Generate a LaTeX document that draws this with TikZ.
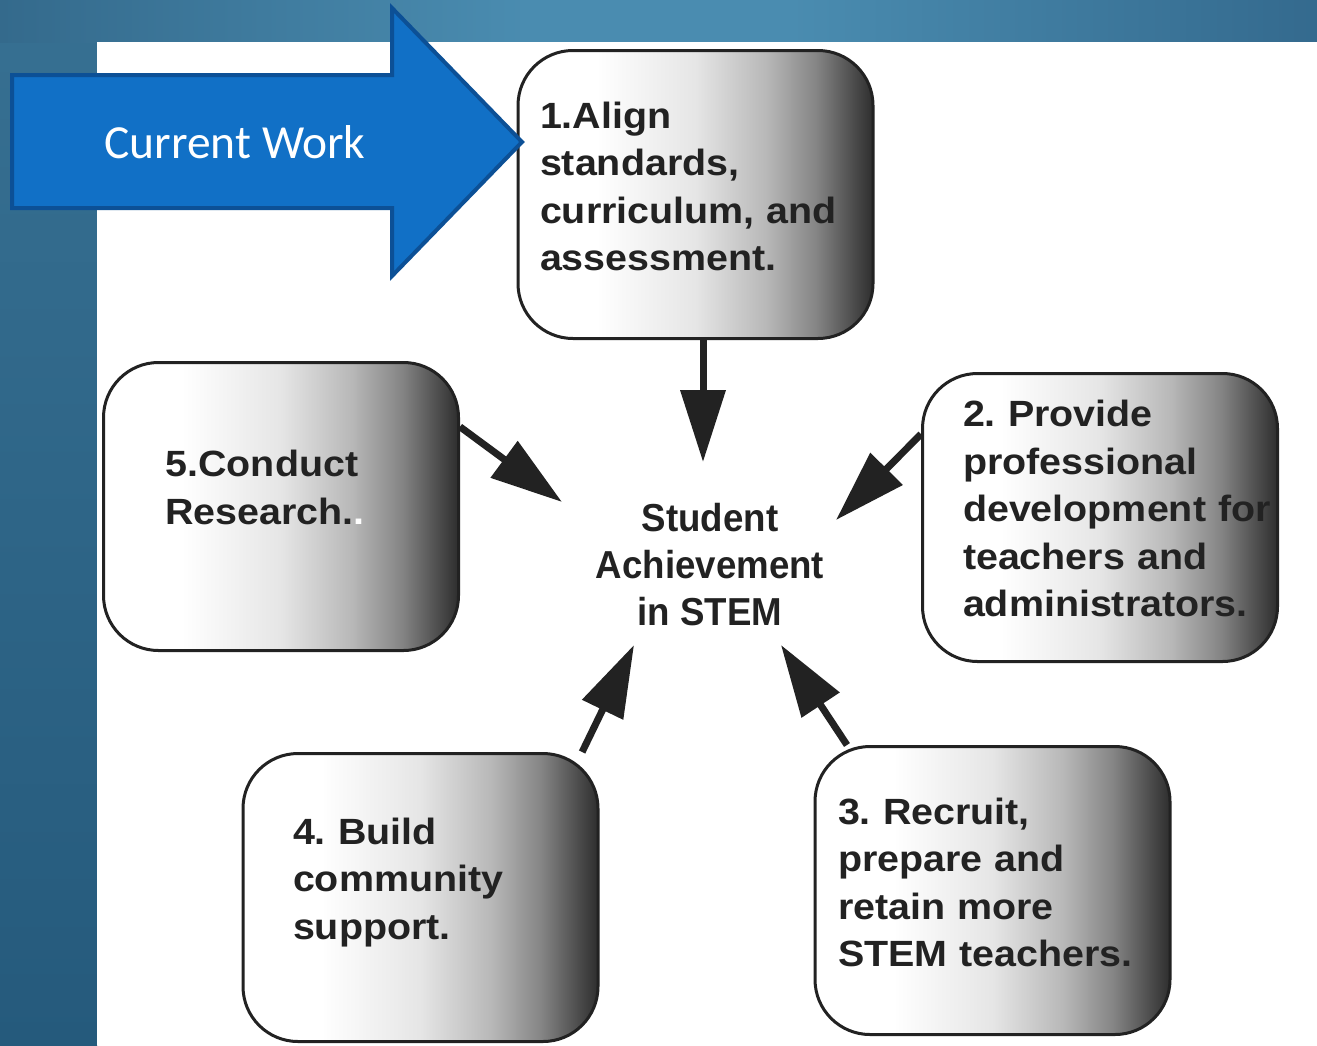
\documentclass[tikz,border=0pt]{standalone}
\usepackage{fontspec}
\usepackage{tikz}
\usetikzlibrary{positioning,arrows.meta}
\newfontfamily\boxfont[FakeStretch=1.08]{Liberation Sans}
\newfontfamily\stemfont[FakeStretch=0.94]{Liberation Sans}
\newfontfamily\workfont{Carlito}
\frenchspacing

\definecolor{ink}{RGB}{34,34,34}
\definecolor{workfill}{RGB}{17,112,198}
\definecolor{workline}{RGB}{12,80,150}
\definecolor{bandL}{RGB}{52,106,140}
\definecolor{bandM}{RGB}{74,140,176}
\definecolor{bandR}{RGB}{52,106,142}
\definecolor{stripT}{RGB}{55,112,146}
\definecolor{stripB}{RGB}{37,90,124}

\pgfdeclarehorizontalshading{boxfade}{100bp}{color(0bp)=(white); color(36bp)=(white);
  color(50bp)=(black!10); color(60bp)=(black!28); color(67bp)=(black!48);
  color(75bp)=(black!82); color(100bp)=(black!82)}
\pgfdeclarehorizontalshading{bandfade}{100bp}{color(0bp)=(bandL); color(25bp)=(bandL);
  color(45bp)=(bandM); color(55bp)=(bandM); color(75bp)=(bandR); color(100bp)=(bandR)}

\tikzset{
  stepbox/.style={draw=ink, line width=3pt, rounded corners=55pt, shading=boxfade,
    minimum width=355pt, minimum height=288pt, align=left, text=ink,
    font=\boxfont\bfseries\fontsize{36.5}{47.5}\selectfont},
  goal/.style={text=ink, align=center, inner sep=0pt,
    font=\stemfont\bfseries\fontsize{39}{47}\selectfont},
  feed/.style={draw=ink, line width=7pt, -{Triangle[length=72pt,width=44pt]}},
}

\begin{document}
\begin{tikzpicture}[x=1pt,y=-1pt]

  % Background
  \useasboundingbox (0,0) rectangle (1317,1045);
  \shade[top color=stripT, bottom color=stripB] (0,0) rectangle (97,1045);
  \shade[shading=bandfade] (0,0) rectangle (1317,42);
  \fill[white] (97,42) rectangle (1317,1045);

  % Nodes

  \node[goal] (stem) at (710,565) {Student\\Achievement\\in STEM};
  \node[stepbox, text width=311pt, above=225pt of stem.center, xshift=-14.5pt] (align)
    {1.Align\\standards,\\curriculum, and\\assessment.\\[-31.5pt]\mbox{}};
  \node[stepbox, text width=274pt, right=211pt of stem.center, yshift=47.5pt] (develop)
    {2. Provide\\professional\\development~for\\teachers and\\\mbox{administrators.}\\[-29.5pt]\mbox{}};
  \node[stepbox, text width=309pt, below=180pt of stem.center, xshift=282.5pt] (recruit)
    {3. Recruit,\\prepare and\\retain more\\STEM teachers.\\[-31.5pt]\mbox{}};
  \node[stepbox, text width=255pt, below=187pt of stem.center, xshift=-289.5pt] (build)
    {4. Build\\community\\support.\\[-9.5pt]\mbox{}};
  \node[stepbox, text width=231pt, left=250pt of stem.center, yshift=58.5pt] (research)
    {5.Conduct\\Research.{\color{white}.}\\[-9.5pt]\mbox{}};

  % Arrow tips round the goal
  \coordinate[above=103pt of stem.center, xshift=-7pt] (tip1);
  \coordinate[above=45pt of stem.center, xshift=126pt] (tip2);
  \coordinate[below=80pt of stem.center, xshift=71pt] (tip3);
  \coordinate[below=80pt of stem.center, xshift=-76pt] (tip4);
  \coordinate[above=63pt of stem.center, xshift=-148pt] (tip5);

  \draw[feed] (align.south -| tip1) -- (tip1);
  \draw[feed] (develop.155) -- (tip2);
  \draw[feed] (recruit.135) -- (tip3);
  \draw[feed] (build.42) -- (tip4);
  \draw[feed] (research.24) -- (tip5);

  % Current work arrow
  \draw[fill=workfill, draw=workline, line width=4pt, line join=miter]
    (12,75) -- (392,75) -- (392,8) -- (522,142) -- (392,276) -- (392,208) -- (12,208) -- cycle;
  \node[text=white, font=\workfont\fontsize{47.5}{56}\selectfont] (work) at (235,142) {Current Work};

\end{tikzpicture}
\end{document}
